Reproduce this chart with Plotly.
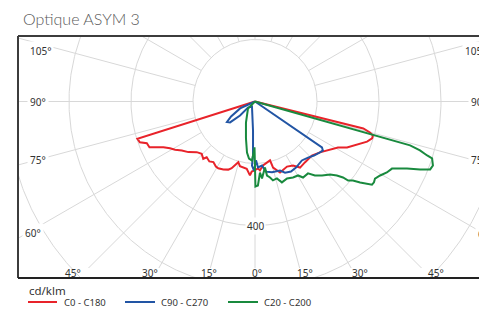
import numpy as np
import plotly.graph_objects as go

# ---------------- data (gamma in degrees, negative = left half-plane; intensity in cd/klm)
red_gamma = [-90, -72.4, -70.5, -68.9, -66.6, -65.1, -63.5, -61.2, -58.9, -56.2, -52.8, -49.0,
             -45.5, -42.1, -40.9, -37.3, -34.5, -31.0, -28.8, -25.0, -21.4, -19.3, -17.4, -15.4,
             -13.1, -10.1, -7.0, -3.9, -2.7, -0.8, 2.6, 4.1, 7.1, 14.3, 15.3, 19.4, 26.2, 30.7,
             34.3, 39.3, 46.5, 51.9, 57.1, 61.0, 63.4, 66.3, 68.6, 70.3, 72.5, 73.9, 74.9, 76.0, 90]
red_I = [0, 398, 394, 374, 371, 350, 330, 313, 301, 284, 270, 249,
         241, 249, 238, 243, 237, 245, 246, 242, 236, 228, 216, 203,
         214, 215, 219, 239, 226, 223, 216, 223, 208, 196, 221, 243, 234, 240,
         258, 254, 253, 266, 288, 306, 332, 352, 371, 384, 396, 396, 384, 360, 0]

blue_gamma = [-90, -65, -58, -53.8, -50, -47, -49, -31, -3.9, -2.1, -2.7, -0.8, 1.0, 2.6, 6.2,
              8.9, 13.5, 19.9, 22.9, 27.2, 31.8, 38.5, 43.4, 47.5, 51.2, 54.2, 55.5, 90]
blue_I = [0, 53, 91, 112, 105, 66, 30, 19, 94, 174, 207, 223, 190, 213, 208,
          229, 235, 237, 249, 254, 251, 243, 249, 258, 265, 270, 262, 0]

green_gamma = [-90, -45, -23.2, -13.7, -8.9, -6.0, -2.9, -0.6, 0.3, 2.0, 4.0, 5.2, 8.6, 9.2,
               11.2, 12.8, 15.9, 18.4, 22.6, 26.6, 30.2, 32.3, 36.4, 39.0, 42.2, 45.8, 47.9,
               49.2, 49.7, 51.1, 52.4, 53.8, 54.6, 55.8, 57.3, 59.4, 61.7, 63.9, 64.9, 66.2,
               67.6, 68.8, 70.2, 72.2, 72.6, 73.5, 74.2, 90]
green_I = [0, 32, 74, 123, 167, 185, 191, 148, 274, 271, 230, 249, 215, 242,
           250, 261, 258, 275, 269, 274, 276, 290, 288, 307, 322, 338, 356,
           375, 394, 406, 428, 448, 463, 464, 460, 469, 483, 492, 509, 536,
           576, 606, 610, 600, 582, 555, 520, 0]

series_names = ["C0 - C180", "C90 - C270", "C20 - C200"]
series_colors = ["#E8232A", "#2255A4", "#198A3E"]

grid_radii = [200, 400, 600, 800]
radial_angles = list(range(-165, 181, 15))
radial_start = 200
radius_label_value = 400
unit_label = "cd/klm"
title_text = "Optique ASYM 3"

left_angle_labels = ["105°", "90°", "75°", "60°"]
bottom_angle_labels = ["45°", "30°", "15°", "0°", "15°", "30°", "45°"]
right_angle_labels = ["105°", "90°", "75°", "60°"]

# ---------------- geometry (pixels)
W, H = 479, 309
L, T, R, B = 18, 36, 479, 278
CX, CY = 255, 101.5
S = 0.31  # px per cd/klm
BOTTOM_LABEL_Y = 273
RADIAL_END_Y = 268

def pxx(x):
    return (x - L) / (R - L)

def pxy(y):
    return (B - y) / (B - T)

def to_xy(g, I):
    g = np.radians(np.asarray(g, dtype=float))
    I = np.asarray(I, dtype=float)
    return I * np.sin(g), -I * np.cos(g)

fig = go.Figure()

# grid circles
gx, gy = [], []
th = np.linspace(0, 2 * np.pi, 721)
for r in grid_radii:
    gx += list(r * np.cos(th)) + [None]
    gy += list(r * np.sin(th)) + [None]
# radial lines (stop just above the bottom angle labels)
y_stop = (CY - RADIAL_END_Y) / S
for a in radial_angles:
    c = np.cos(np.radians(a))
    r_end = 3000.0
    if c > 1e-6:
        r_end = min(r_end, -y_stop / c)
    x0, y0 = to_xy([a], [radial_start])
    x1, y1 = to_xy([a], [r_end])
    gx += [x0[0], x1[0], None]
    gy += [y0[0], y1[0], None]
fig.add_trace(go.Scatter(x=gx, y=gy, mode="lines", line=dict(color="#D8D8D8", width=1),
                         hoverinfo="skip", showlegend=False))

for g, I, name, col in zip([red_gamma, blue_gamma, green_gamma], [red_I, blue_I, green_I],
                           series_names, series_colors):
    x, y = to_xy(g, I)
    fig.add_trace(go.Scatter(x=x, y=y, mode="lines", name=name,
                             line=dict(color=col, width=2), showlegend=False))

ann = []
lab_font = dict(family="Noto Sans", size=10, color="#333333")
# left labels
for txt, yy in zip(left_angle_labels, [51, 102, 160, 233]):
    xx = 27 if txt != "60°" else 22
    ann.append(dict(x=pxx(xx), y=pxy(yy), xref="paper", yref="paper", text=txt, showarrow=False,
                    xanchor="left", yanchor="middle", font=lab_font, bgcolor="white", borderpad=2))
for txt, yy in zip(right_angle_labels, [51, 102, 160, 234]):
    xx = {"105°": 462, "90°": 468, "75°": 468, "60°": 475}[txt]
    ann.append(dict(x=pxx(xx), y=pxy(yy), xref="paper", yref="paper", text=txt, showarrow=False,
                    xanchor="left", yanchor="middle", font=lab_font, bgcolor="white", borderpad=2))
for txt, xx in zip(bottom_angle_labels, [73, 150, 208.5, 257, 305, 360, 436]):
    ann.append(dict(x=pxx(xx), y=pxy(BOTTOM_LABEL_Y), xref="paper", yref="paper", text=txt,
                    showarrow=False, xanchor="center", yanchor="middle", font=lab_font))
# radius label
ann.append(dict(x=0, y=-radius_label_value, xref="x", yref="y", text=str(radius_label_value),
                showarrow=False, font=lab_font, bgcolor="white", borderpad=1))
# title
ann.append(dict(x=pxx(21), y=pxy(19), xref="paper", yref="paper", text=title_text, showarrow=False,
                xanchor="left", yanchor="middle",
                font=dict(family="Lato", size=16, color="#5a5a5a", weight=300)))
# unit
ann.append(dict(x=pxx(27), y=pxy(290), xref="paper", yref="paper", text=unit_label, showarrow=False,
                xanchor="left", yanchor="middle",
                font=dict(family="Noto Sans", size=11.5, color="#333333")))

shapes = []
# box borders
shapes.append(dict(type="line", xref="paper", yref="paper", x0=0, x1=0, y0=0, y1=1,
                   line=dict(color="#3c3c3c", width=2)))
shapes.append(dict(type="line", xref="paper", yref="paper", x0=0, x1=1.01, y0=1, y1=1,
                   line=dict(color="#3c3c3c", width=2)))
shapes.append(dict(type="line", xref="paper", yref="paper", x0=0, x1=1.01, y0=0, y1=0,
                   line=dict(color="#222222", width=2)))
# legend
leg_x = [(28, 57, 61.5), (125, 155, 159), (228, 258, 262)]
for (a, b, tx), name, col in zip(leg_x, series_names, series_colors):
    shapes.append(dict(type="line", xref="paper", yref="paper", x0=pxx(a), x1=pxx(b),
                       y0=pxy(302), y1=pxy(302), line=dict(color=col, width=2)))
    ann.append(dict(x=pxx(tx), y=pxy(302), xref="paper", yref="paper", text=name, showarrow=False,
                    xanchor="left", yanchor="middle",
                    font=dict(family="Noto Sans", size=9.5, color="#333333")))

fig.update_layout(
    width=W, height=H,
    margin=dict(l=L, r=W - R, t=T, b=H - B, autoexpand=False),
    paper_bgcolor="white", plot_bgcolor="white",
    xaxis=dict(range=[(L - CX) / S, (R - CX) / S], visible=False, fixedrange=True),
    yaxis=dict(range=[(CY - B) / S, (CY - T) / S], visible=False, fixedrange=True),
    annotations=ann, shapes=shapes, showlegend=False,
)

fig.write_html(
    "out.html",
    config={"displayModeBar": False},
    post_script="document.body.style.margin='0';document.body.style.overflow='hidden';",
)
